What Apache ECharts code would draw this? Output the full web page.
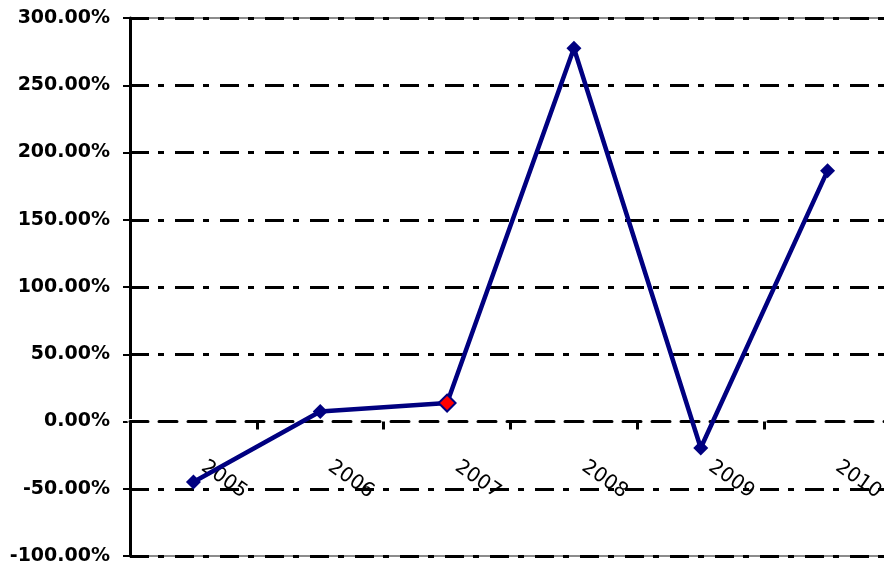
<!DOCTYPE html>
<html>
<head>
<meta charset="utf-8">
<script src="https://cdn.jsdelivr.net/npm/echarts@6/dist/echarts.min.js"></script>
<style>
html,body{margin:0;padding:0;background:#fff;}
#chart{width:884px;height:570px;}
</style>
</head>
<body>
<div id="chart"></div>
<script>
// Data
var years = ['2005', '2006', '2007', '2008', '2009', '2010'];
var growth = [-45.0, 7.5, 13.7, 277.5, -19.7, 186.5];
var highlightYear = '2007';
var yMin = -100, yMax = 300, yStep = 50;

var seriesData = years.map(function (y, i) {
  var d = { value: growth[i] };
  if (y === highlightYear) {
    d.symbolSize = 17;
    d.itemStyle = { color: '#ff0000', borderColor: '#000080', borderWidth: 2 };
  }
  return d;
});

var chart = echarts.init(document.getElementById('chart'));
chart.setOption({
  animation: false,
  backgroundColor: '#ffffff',
  grid: {
    left: 130, right: -7, top: 18, bottom: 14,
    containLabel: false, outerBoundsMode: 'none',
    show: true, borderColor: '#8c8c8c', borderWidth: 2, backgroundColor: 'transparent'
  },
  xAxis: [
    {
      type: 'category', data: years, position: 'bottom', z: 3,
      axisLine: { onZero: true, onZeroAxisIndex: 0, lineStyle: { color: '#ffffff', width: 5 } },
      axisTick: { show: false },
      axisLabel: {
        show: true, interval: 0, hideOverlap: false, showMinLabel: true, showMaxLabel: true,
        rotate: -35, margin: -98, padding: [0, 0, 0, 12],
        fontFamily: 'DejaVu Sans', fontSize: 20, color: '#000000'
      },
      splitLine: { show: false }
    },
    {
      type: 'category', data: years, position: 'bottom', z: 4,
      axisLine: { onZero: true, onZeroAxisIndex: 1, lineStyle: { color: '#000000', width: 3, type: [18, 11] } },
      axisTick: { show: true, length: 8, lineStyle: { color: '#000000', width: 3 } },
      axisLabel: { show: false },
      splitLine: { show: false }
    }
  ],
  yAxis: [
    {
      type: 'value', min: yMin, max: yMax, interval: yStep, z: 1,
      axisLine: { show: true, lineStyle: { color: '#000000', width: 3 } },
      axisTick: { show: true, length: 7, lineStyle: { color: '#000000', width: 2 } },
      axisLabel: {
        margin: 20, fontFamily: 'DejaVu Sans', fontWeight: 'bold', fontSize: 19, color: '#000000',
        formatter: function (v) { return v.toFixed(2) + '%'; }
      },
      splitLine: { show: true, lineStyle: { color: '#000000', width: 3, type: [19, 9, 6, 11] } }
    },
    {
      type: 'value', min: yMin, max: yMax, interval: yStep, position: 'left',
      axisLine: { show: false }, axisTick: { show: false }, axisLabel: { show: false },
      splitLine: { show: false }
    }
  ],
  series: [{
    type: 'line', xAxisIndex: 1, yAxisIndex: 0, data: seriesData,
    symbol: 'diamond', symbolSize: 15,
    lineStyle: { color: '#000080', width: 4.5 },
    itemStyle: { color: '#000080' },
    z: 5
  }]
});
</script>
</body>
</html>
